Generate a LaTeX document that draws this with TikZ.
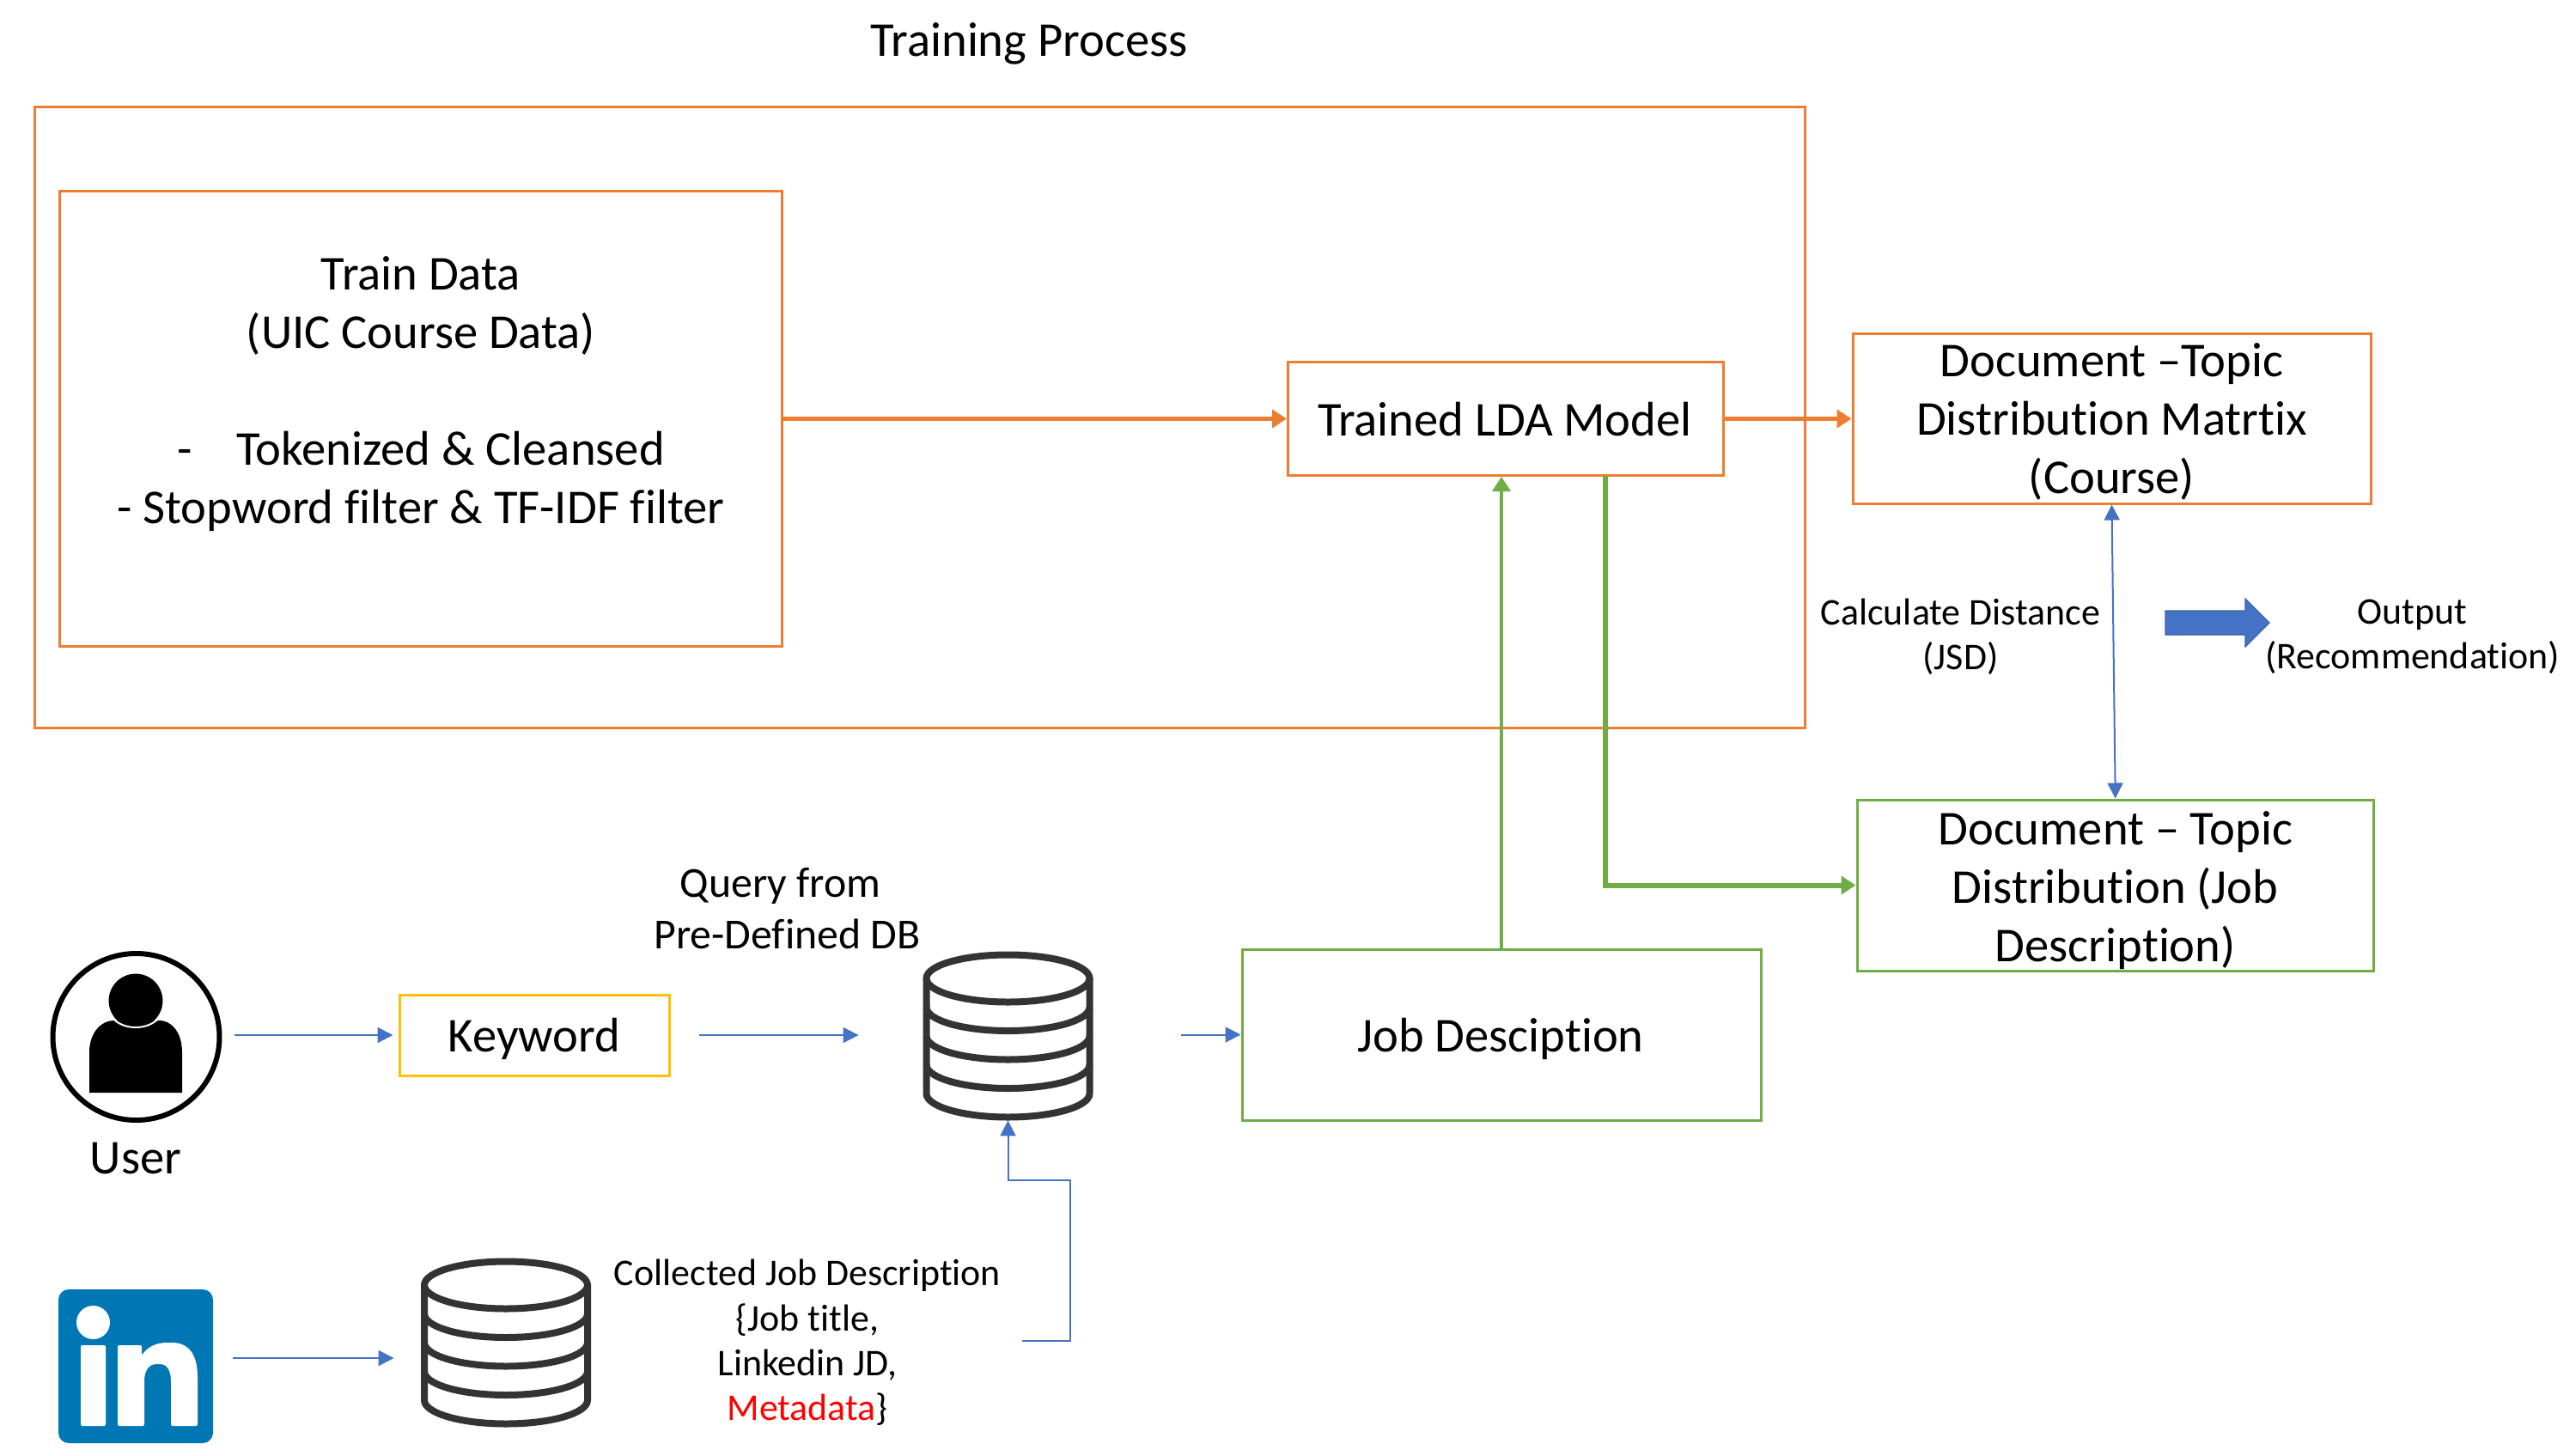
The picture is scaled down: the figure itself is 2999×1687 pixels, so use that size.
\documentclass[tikz,border=0pt]{standalone}
\usepackage{fontspec}
\setmainfont[Ligatures=NoCommon]{Carlito}
\usetikzlibrary{arrows.meta,calc}
\definecolor{orangeC}{HTML}{ED7D31}
\definecolor{greenC}{HTML}{70AD47}
\definecolor{blueC}{HTML}{4472C4}
\definecolor{yellowC}{HTML}{FFC000}
\definecolor{linkC}{HTML}{0077B5}
\definecolor{dbC}{HTML}{333333}
\tikzset{
  x=0.5pt,y=-0.5pt,
  box/.style={draw=#1,line width=1.5pt,inner sep=0pt},
  big/.style={inner sep=0pt,align=center,font=\fontsize{28.3}{34}\selectfont},
  small/.style={inner sep=0pt,align=center,font=\fontsize{21.95}{26.2}\selectfont},
  thinarrow/.style={draw=blueC,line width=1pt,-{Triangle[length=9pt,width=9pt]}},
  orangearrow/.style={draw=orangeC,line width=2.8pt,-{Triangle[length=8.5pt,width=10.5pt]}},
  greenarrow/.style={draw=greenC,line width=#1,-{Triangle[length=8.5pt,width=10.5pt]}},
  dbicon/.pic={
    \draw[dbC,line width=4pt,fill=white]
      (-95,-67) -- (-95,67) arc[start angle=180,end angle=360,x radius=95,y radius=-27.5]
      -- (95,-67);
    \draw[dbC,line width=4pt] (0,-67) ellipse[x radius=95,y radius=27.5];
    \foreach \yy in {33.5,67,100.5}
      \draw[dbC,line width=4pt] (-95,\yy-67) arc[start angle=180,end angle=360,x radius=95,y radius=-27.5];
  }
}
\begin{document}
\begin{tikzpicture}
\useasboundingbox (0,0) rectangle (2999,1687);
% boxes
\node[box=orangeC,minimum width=1030.75pt,minimum height=361.75pt] (outer) at (1070.75,485.75) {};
\node[box=orangeC,minimum width=420.5pt,minimum height=265pt] (train) at (489.5,487) {};
\node[box=orangeC,minimum width=253.25pt,minimum height=66pt] (lda) at (1752.75,487.5) {};
\node[box=orangeC,minimum width=301.5pt,minimum height=99pt] (course) at (2458.5,487) {};
\node[box=greenC,minimum width=300.75pt,minimum height=99.5pt] (jobdoc) at (2462.75,1030.5) {};
\node[box=greenC,minimum width=302pt,minimum height=99.5pt] (job) at (1748,1204.5) {};
\node[box=yellowC,minimum width=157pt,minimum height=47pt] (kw) at (622,1205) {};
% box texts
\node[big] (traintext) at (490,459)
  {Train Data\\(UIC Course Data)\\[34pt]-\hspace{26pt}Tokenized \& Cleansed\\- Stopword filter \& TF-IDF filter};
\node[big] (ldatext) at (1752,488) {Trained LDA Model};
\node[big] (coursetext) at (2458.5,491) {Document –Topic\\Distribution Matrtix\\(Course)};
\node[big] (jobdoctext) at (2462.75,1036.5) {Document – Topic\\Distribution (Job\\Description)};
\node[big] (jobtext) at (1747,1209) {Job Desciption};
\node[big] (kwtext) at (622,1209) {Keyword};
% titles and labels
\node[big] (title) at (1198,51) {Training Process};
\node[big] (userl) at (158,1349) {User};
\node[small,font=\fontsize{24.9}{30}\selectfont] (query) at (908.5,1058) {Query from\\\hspace{8pt}Pre-Defined DB};
\node[small] (coll) at (940,1563) {Collected Job Description\\\{Job title,\hspace{9.6pt}\\Linkedin JD,\hspace{7pt}\\\textcolor{red}{Metadata}\}};
\node[small] (jsd) at (2282.5,741) {Calculate Distance\\(JSD)};
\node[small] (outp) at (2808.6,741) {Output\\(Recommendation)};
% user icon
\node[draw=black,line width=3pt,circle,minimum size=97pt,inner sep=0pt] (user) at (158.5,1207) {};
\fill[black] (104,1272) -- (104,1225) .. controls (104,1200) and (120,1188) .. (132,1188)
  -- (186,1188) .. controls (198,1188) and (212,1200) .. (212,1225) -- (212,1272) -- cycle;
\draw[black,fill=black] (158,1165) ellipse[x radius=31,y radius=31];
\draw[white,line width=1pt] (130,1184) .. controls (143,1200) and (173,1200) .. (186,1184);
% linkedin icon
\node[fill=linkC,rounded corners=6pt,minimum width=90pt,minimum height=89.5pt,inner sep=0pt] (li) at (158,1590.5) {};
\fill[white] (108.5,1539.5) ellipse[x radius=19.5,y radius=19.5];
\fill[white,rounded corners=1pt] (94,1566) rectangle (123,1660);
\fill[white,rounded corners=1pt] (137,1566) -- (165,1566) -- (165,1578) .. controls (175,1564) and (188,1563) .. (198,1563)
  .. controls (222,1563) and (230,1580) .. (230,1605) -- (230,1660) -- (199,1660) -- (199,1610)
  .. controls (199,1596) and (195,1588) .. (184,1588) .. controls (173,1588) and (168,1596) .. (168,1610)
  -- (168,1660) -- (137,1660) -- cycle;
% databases
\node[minimum width=97.5pt,minimum height=98pt,inner sep=0pt] (dba) at (1173.5,1206) {};
\pic at (dba.center) {dbicon};
\node[minimum width=97pt,minimum height=99pt,inner sep=0pt] (dbb) at (589,1563) {};
\pic at (dbb.center) {dbicon};
% output arrow
\draw[blueC!85!black,fill=blueC,line width=0.6pt] (2521,711) -- (2614,711) -- (2614,697) -- (2642,725) -- (2614,753) -- (2614,739) -- (2521,739) -- cycle;
% connectors
\coordinate (inout) at (271,1581);
\coordinate (colout) at (1190,1561);
\coordinate (colbend) at (1246,1374);
\coordinate (ldagreen) at (1869,554);
\draw[orangearrow] (train.east |- lda.east) -- (lda.west);
\draw[orangearrow] (lda.east) -- (course.west |- lda.east);
\draw[greenarrow=2.4pt] (job.north) -- (job.north |- lda.south);
\draw[greenarrow=3pt] (ldagreen) |- (jobdoc.west);
\draw[thinarrow,{Triangle[length=9pt,width=9pt]}-{Triangle[length=9pt,width=9pt]}] (course.south) -- (jobdoc.north);
\draw[thinarrow,shorten <=7pt,shorten >=3pt] (user.east |- kw.west) -- (kw.west);
\draw[thinarrow,shorten <=16.5pt,shorten >=38pt] (kw.east) -- (dba.west |- kw.east);
\draw[thinarrow,shorten <=52pt] (dba.east |- job.west) -- (job.west);
\draw[thinarrow,shorten >=16.5pt] (inout) -- (dbb.west |- inout);
\draw[thinarrow] (colout) -| (colbend) -| (dba.south);
\end{tikzpicture}
\end{document}
